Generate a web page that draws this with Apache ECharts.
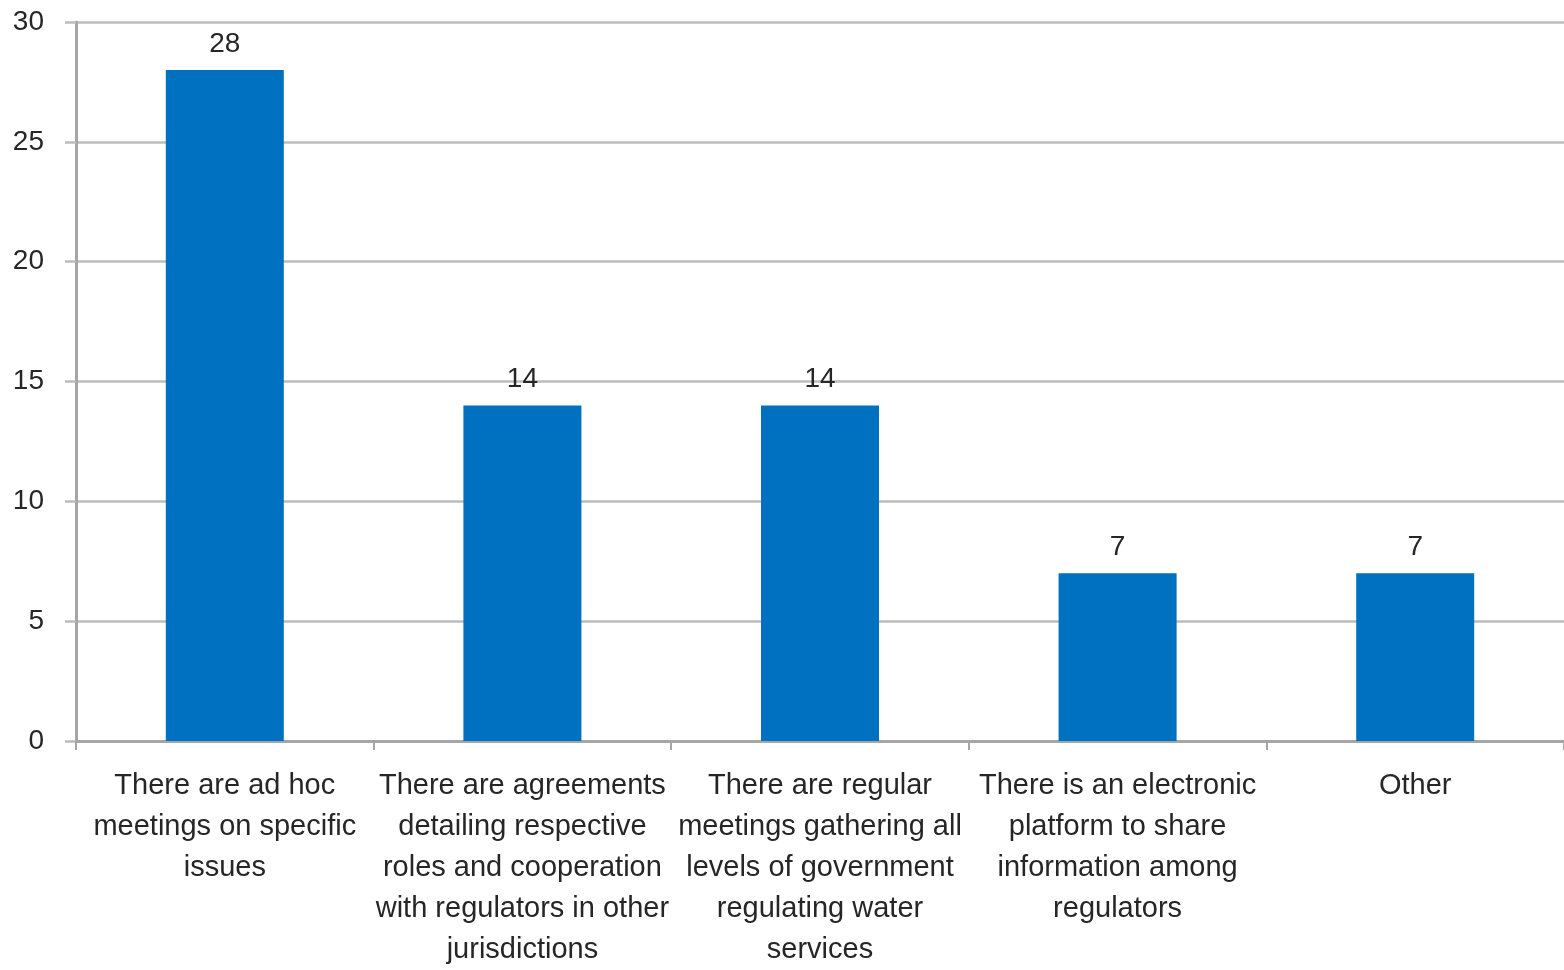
<!DOCTYPE html>
<html>
<head>
<meta charset="utf-8">
<script src="https://cdn.jsdelivr.net/npm/echarts@6/dist/echarts.min.js"></script>
<style>
  html, body { margin: 0; padding: 0; background: #ffffff; }
  #chart { width: 1564px; height: 970px; }
</style>
</head>
<body>
<div id="chart"></div>
<script>
// Survey responses: mechanisms for coordination among regulators
const categories = [
  'There are ad hoc\nmeetings on specific\nissues',
  'There are agreements\ndetailing respective\nroles and cooperation\nwith regulators in other\njurisdictions',
  'There are regular\nmeetings gathering all\nlevels of government\nregulating water\nservices',
  'There is an electronic\nplatform to share\ninformation among\nregulators',
  'Other'
];
const counts = [28, 14, 14, 7, 7];
const yTicks = { min: 0, max: 30, interval: 5 };

const textColor = '#262626';
const fontFamily = '"Liberation Sans", Arial, sans-serif';

const chart = echarts.init(document.getElementById('chart'), null, { renderer: 'canvas' });
chart.setOption({
  animation: false,
  backgroundColor: '#ffffff',
  grid: { left: 76, right: -1, top: 22, bottom: 220, containLabel: false },
  xAxis: {
    type: 'category',
    data: categories,
    axisLine: { show: true, lineStyle: { color: '#a6a6a6', width: 3 } },
    axisTick: { show: true, length: 9, lineStyle: { color: '#a6a6a6', width: 2 } },
    axisLabel: {
      interval: 0,
      margin: 24,
      color: textColor,
      fontFamily: fontFamily,
      fontSize: 29,
      lineHeight: 41,
      align: 'center'
    },
    splitLine: { show: false }
  },
  yAxis: {
    type: 'value',
    min: yTicks.min,
    max: yTicks.max,
    interval: yTicks.interval,
    axisLine: { show: true, lineStyle: { color: '#a6a6a6', width: 3 } },
    axisTick: { show: true, length: 11, lineStyle: { color: '#bcbcbc', width: 2.5 } },
    axisLabel: {
      margin: 32,
      color: textColor,
      fontFamily: fontFamily,
      fontSize: 28
    },
    splitLine: { show: true, lineStyle: { color: '#bcbcbc', width: 2.5 } }
  },
  series: [{
    type: 'bar',
    data: counts,
    barWidth: 118,
    itemStyle: { color: '#0070c0' },
    label: {
      show: true,
      position: 'top',
      distance: 12,
      color: textColor,
      fontFamily: fontFamily,
      fontSize: 28
    }
  }]
});
</script>
</body>
</html>
